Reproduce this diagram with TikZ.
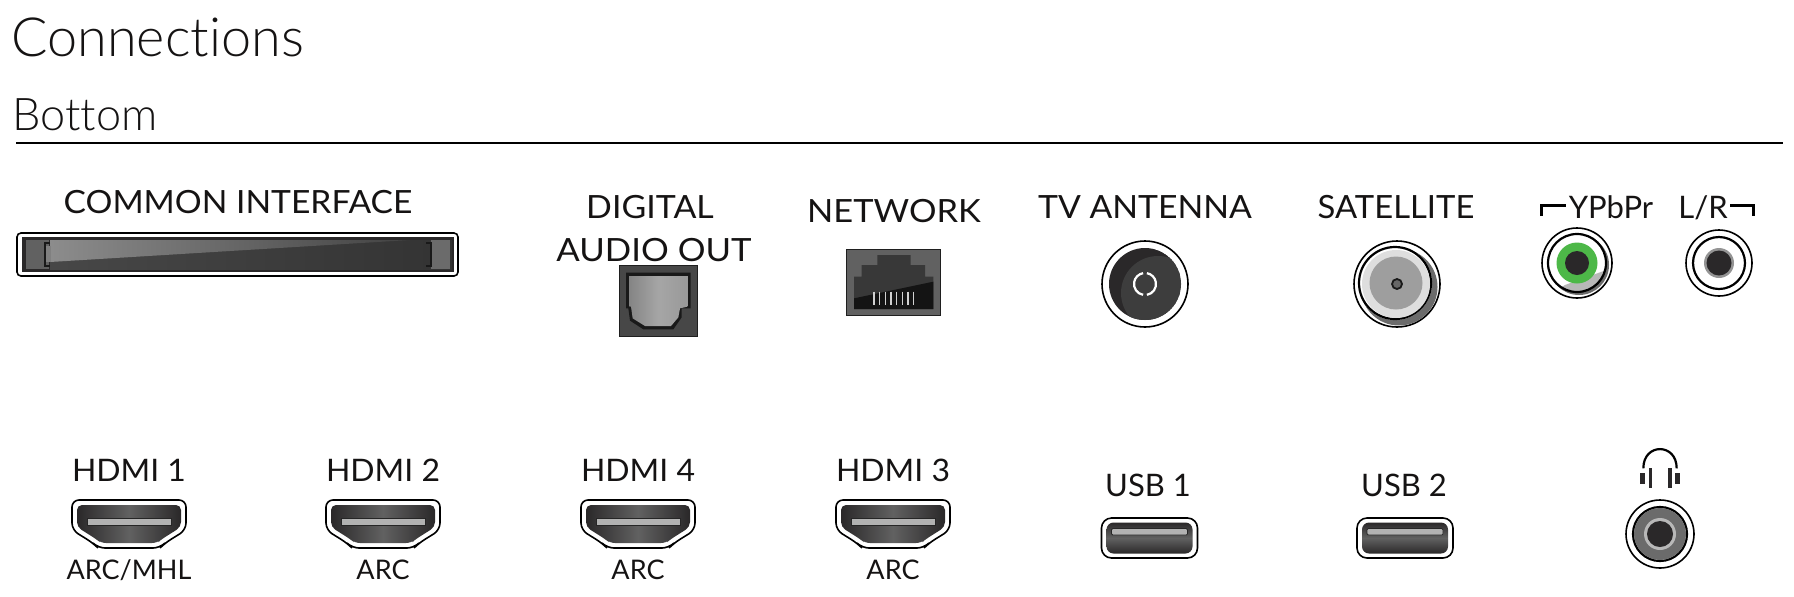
\documentclass[tikz,border=0pt]{standalone}
\usepackage{fontspec}
\setmainfont{Lato}
\newfontfamily\lightf[Ligatures={NoCommon,NoRare,NoContextual}]{Lato Light}
\usetikzlibrary{calc}
\definecolor{ink}{HTML}{151313}
\definecolor{port}{HTML}{2A2829}
\definecolor{greenring}{HTML}{4DB848}
\newcommand{\stretchx}[2]{\scalebox{#1}[1]{#2}}
\tikzset{
  lab/.style={anchor=base,inner sep=0pt,text=ink,font=\fontsize{15.5}{18}\selectfont},
  labcap/.style={anchor=base,inner sep=0pt,text=ink,font=\fontsize{16}{18}\selectfont},
  labsmall/.style={anchor=base,inner sep=0pt,text=ink,font=\fontsize{13.5}{16}\selectfont},
  heading/.style={anchor=base west,inner sep=0pt,text=ink},
  frame/.style={draw=black,fill=white,line width=0.8pt},
  ring/.style={draw=black,line width=1.1pt},
  hdmiport/.pic={
    \draw[frame,rounded corners=3.5pt] (-57,-24)--(57,-24)--(57,6)--(36,19)--(31,24)--(-31,24)--(-36,19)--(-57,6)--cycle;
    \shade[left color=port,right color=port,middle color=black!62,rounded corners=2.5pt] (-52,-19)--(52,-19)--(52,3)--(33,15)--(28,19)--(-28,19)--(-33,15)--(-52,3)--cycle;
    \fill[black!30,draw=black!85,line width=.4pt] (-42,-5.5) rectangle (42,1);
  },
  usbport/.pic={
    \draw[frame,rounded corners=5pt] (-48,-20) rectangle (48,20);
    \shade[top color=port,bottom color=port,middle color=black!62,rounded corners=3.5pt] (-43,-15.5) rectangle (43,15.5);
    \fill[black!30,draw=black!85,line width=.4pt,rounded corners=.6pt] (-38,-9.5) rectangle (38,-3);
  }
}
\begin{document}
\begin{tikzpicture}[x=0.5pt,y=-0.5pt]
\useasboundingbox (0,0) rectangle (1794,596);
% headings
\node[heading,font=\lightf\fontsize{27}{32}\selectfont] (title) at (11,56) {Connections};
\node[heading,font=\lightf\fontsize{22.5}{27}\selectfont] (bottom) at (12,130) {Bottom};
\draw[line width=.7pt,black] (16,143) -- (1783,143);
% labels
\node[labcap] (ci) at (238,213) {\stretchx{1.05}{COMMON INTERFACE}};
\node[labcap] (dao1) at (650,218) {\stretchx{1.06}{DIGITAL}};
\node[labcap] (dao2) at (654,261) {\stretchx{1.085}{AUDIO OUT}};
\node[labcap] (net) at (894,222) {\stretchx{1.075}{NETWORK}};
\node[labcap] (tva) at (1145,218) {\stretchx{1.055}{TV ANTENNA}};
\node[labcap] (sat) at (1396,218) {\stretchx{1.025}{SATELLITE}};
\node[lab] (ypbpr) at (1611,218) {YPbPr};
\node[lab] (lr) at (1703,218) {L/R};
\draw[line width=1.5pt,black] (1541,216) -- (1541,205) -- (1566,205);
\draw[line width=1.5pt,black] (1730,205) -- (1753,205) -- (1753,216);
\foreach \n/\x/\t/\s in {a/129/HDMI 1/ARC\slash MHL,b/383/HDMI 2/ARC,c/638/HDMI 4/ARC,d/893/HDMI 3/ARC}{
  \node[lab] (hdmi\n) at (\x,481) {\stretchx{1.03}{\t}};
  \node[labsmall] (arc\n) at (\x,579) {\s};
  \pic at (\x,524) {hdmiport};
}
\node[lab] (usba) at (1148,496) {USB 1};
\node[lab] (usbb) at (1404,496) {USB 2};
\pic at (1149.5,538) {usbport};
\pic at (1405,538) {usbport};
% common interface
\begin{scope}
  \draw[black,fill=white,line width=.8pt,rounded corners=2pt] (17,233) rectangle (458,276);
  \fill[port] (22,237) rectangle (454,272);
  \shade[left color=black!72,right color=black!80] (50,240) rectangle (452,269);
  \shade[left color=black!45,right color=black!74] (50,240) -- (410,240) -- (50,262) -- cycle;
  \fill[black!62] (26,240) rectangle (49,269);
  \fill[black!50] (45,246) -- (51,246) -- (51,262) -- (45,262) -- cycle;
  \draw[black!90,line width=.6pt] (50,243) -- (45,243) -- (45,266) -- (50,266);
  \fill[black!58] (431,240) rectangle (450,269);
  \draw[black!90,line width=.6pt] (426,243) -- (431,243) -- (431,266) -- (426,266);
\end{scope}
% digital audio out
\begin{scope}[shift={(600,230)},x=0.16667pt,y=-0.16667pt]
  \fill[black!72,draw=black!88,line width=.5pt] (57,107) rectangle (292,320);
  \fill[black!90] (78,128) -- (272,128) -- (272,235) -- (245,235) -- (245,262) -- (220,298) -- (130,298) -- (90,272) -- (85,235) -- (78,235) -- cycle;
  \shade[left color=black!48,right color=black!40,middle color=black!35] (88,138) -- (262,138) -- (262,230) -- (240,235) -- (235,262) -- (213,288) -- (135,288) -- (98,265) -- (93,230) -- (88,230) -- cycle;
\end{scope}
% network
\begin{scope}[shift={(600,230)},x=0.16667pt,y=-0.16667pt]
  \fill[black!62,draw=black!88,line width=.5pt] (740,58) rectangle (1022,256);
  \fill[black!78] (762,237) -- (762,140) -- (785,140) -- (785,105) -- (832,105) -- (832,75) -- (932,75) -- (932,105) -- (975,105) -- (975,140) -- (1000,140) -- (1000,237) -- cycle;
  \fill[black!92] (762,237) -- (762,205) -- (1000,155) -- (1000,237) -- cycle;
  \foreach \i in {0,...,7} \draw[white!82!black,line width=.8pt] ({822+\i*17},185) -- ({822+\i*17},225);
\end{scope}
% TV antenna
\draw[frame] (1145,284) circle (43);
\begin{scope}
  \clip (1145,284) circle (36);
  \fill[port] (1145,284) circle (36);
  \fill[black!76] (1158,293) circle (37);
\end{scope}
\draw[white,line width=1.1pt] (1145,284) ++(80:11) arc (80:-80:11);
\draw[white,line width=1.1pt] (1145,284) ++(100:11) arc (100:260:11);
% satellite
\draw[frame] (1397,284) circle (43);
\fill[black!58] (1399,287) circle (38.5);
\fill[white] (1395,283) circle (37);
\draw[ring] (1395,283) circle (36);
\fill[black!13] (1396,284) circle (34);
\fill[black!38] (1396,283) circle (26.5);
\fill[black!60,draw=black!90,line width=.9pt] (1397,284) circle (5);
% YPbPr
\draw[frame] (1577,263) circle (35);
\fill[black!58] (1579,265) circle (30);
\fill[white] (1577,263) circle (29);
\begin{scope}
  \clip (1577,263) circle (29);
  \fill[black!28] (1565,285) -- (1612,268) -- (1612,300) -- (1540,300) -- cycle;
\end{scope}
\draw[ring] (1577,263) circle (29);
\fill[greenring] (1577,263) circle (20.5);
\fill[port] (1577,263) circle (12);
% L/R
\draw[frame] (1719,263) circle (33);
\draw[ring] (1719,263) circle (26);
\fill[black!42] (1719,263) circle (15);
\fill[port] (1719,263) circle (12.5);
% headphones
\begin{scope}[shift={(1590,430)},x=0.16667pt,y=-0.16667pt]
  \draw[black,line width=1.1pt] (160,115) .. controls (160,38) and (260,38) .. (260,115);
  \fill[port] (150,128) rectangle (165,162);
  \fill[port] (255,128) rectangle (270,162);
  \fill[port] (176,115) rectangle (186,175);
  \fill[port] (234,115) rectangle (245,175);
\end{scope}
% headphone jack
\draw[frame] (1660,534) circle (34);
\draw[ring] (1660,534) circle (27);
\fill[black!58] (1660,534) circle (26);
\fill[black!28] (1660,534) circle (16);
\fill[port] (1660,534) circle (13);
\end{tikzpicture}
\end{document}
